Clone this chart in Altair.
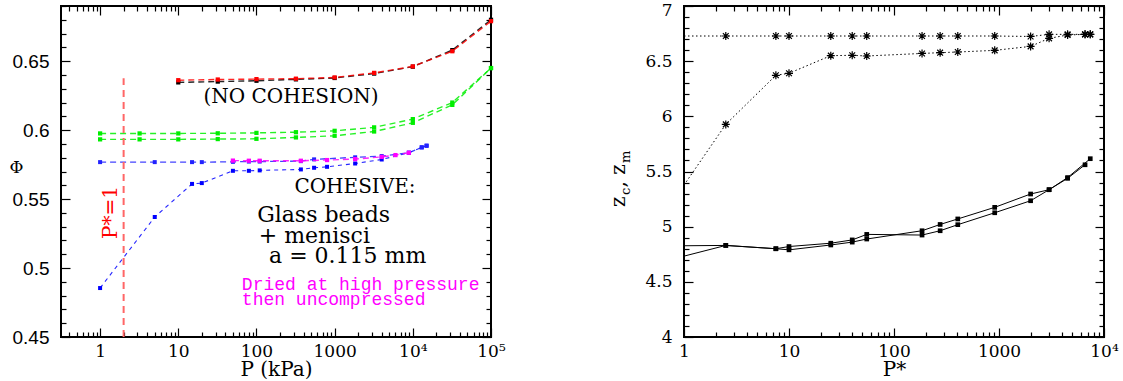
import altair as alt
import pandas as pd

# ---------------- left panel data (packing fraction vs P in kPa) ----------------
P_nc = [10, 32, 100, 320, 1000, 3200, 1e4, 3.2e4, 1e5]
phi_black = [0.6346, 0.6352, 0.6358, 0.6368, 0.6378, 0.6410, 0.6460, 0.6580, 0.6800]
phi_red = [0.6362, 0.6367, 0.6370, 0.6373, 0.6382, 0.6415, 0.6462, 0.6572, 0.6790]

P_green = [1, 3.2, 10, 32, 100, 320, 1000, 3200, 1e4, 3.2e4, 1e5]
phi_green_hi = [0.5976, 0.5976, 0.5976, 0.5977, 0.5980, 0.5985, 0.5995, 0.6020, 0.6080, 0.6200, 0.6450]
phi_green_lo = [0.5933, 0.5933, 0.5933, 0.5935, 0.5937, 0.5947, 0.5959, 0.5990, 0.6053, 0.6183, 0.6450]

P_blue_hi = [1, 5, 15, 20, 50, 80, 110, 370, 546, 1830, 4000, 8900, 13000, 15000]
phi_blue_hi = [0.5768, 0.5768, 0.5768, 0.5768, 0.5770, 0.5772, 0.5772, 0.5775, 0.5788, 0.5803, 0.5812, 0.5836, 0.5875, 0.5887]
P_blue_lo = [1, 5, 15, 20, 50, 80, 110, 370, 546, 800, 1830, 4000, 8900, 13000, 15000]
phi_blue_lo = [0.4855, 0.5370, 0.5610, 0.5616, 0.5705, 0.5705, 0.5708, 0.5715, 0.5727, 0.5734, 0.5758, 0.5787, 0.5836, 0.5875, 0.5887]
P_mag = [50, 80, 110, 370, 800, 1830, 4000, 6000, 8900]
phi_mag = [0.5779, 0.5778, 0.5778, 0.5778, 0.5783, 0.5790, 0.5806, 0.5819, 0.5836]

P_star_line = [2, 2]
phi_star_line = [0.45, 0.6377]

left_texts = ["(NO COHESION)", "COHESIVE:", "Glass beads", "+ menisci", "a = 0.115 mm"]
left_text_P = [277, 1820, 102, 107, 145]
left_text_phi = [0.6196, 0.5543, 0.5333, 0.5181, 0.5036]
left_text_align = ["center", "center", "left", "left", "left"]
left_text_size = [20, 20, 22, 22, 22]
mag_texts = ["Dried at high pressure", "then uncompressed"]
mag_text_P = [65, 65]
mag_text_phi = [0.4840, 0.4732]

# ---------------- right panel data (coordination numbers vs P*) ----------------
P_r = [1, 2.5, 7.5, 10, 25, 40, 55, 185, 275, 405, 910, 2000, 3000, 4500, 6600, 7400]
z_star_hi = [6.728, 6.728, 6.728, 6.728, 6.728, 6.728, 6.728, 6.728, 6.728, 6.728, 6.728, 6.724, 6.743, 6.743, 6.743, 6.743]
z_star_lo = [5.377, 5.927, 6.372, 6.390, 6.550, 6.553, 6.547, 6.570, 6.577, 6.583, 6.598, 6.634, 6.707, 6.737, 6.743, 6.743]
P_sqA = [1, 2.5, 7.5, 10, 25, 40, 55, 185, 275, 405, 910, 2000, 3000, 4500, 6600]
z_sqA = [4.827, 4.830, 4.800, 4.820, 4.850, 4.880, 4.930, 4.924, 4.963, 5.018, 5.126, 5.235, 5.335, 5.438, 5.561]
P_sqB = [1, 2.5, 7.5, 10, 25, 40, 55, 185, 275, 405, 910, 2000, 3000, 4500, 7400]
z_sqB = [4.733, 4.830, 4.800, 4.790, 4.834, 4.860, 4.888, 4.963, 5.020, 5.070, 5.175, 5.296, 5.335, 5.445, 5.616]

SERIF = "DejaVu Serif"
SANS = "Liberation Sans"
ASTERISK = "M-1,0L1,0M0,-1L0,1M-0.72,-0.72L0.72,0.72M-0.72,0.72L0.72,-0.72"
H = 331


def frame(P, v):
    return pd.DataFrame({"P": P, "v": v})


def tick_layers(df, xs, ys, xmaj, xmin, ymaj, ymin, lmaj=9, lmin=5):
    base = alt.Chart(df).mark_point(opacity=0)
    out = []
    for orient in ("bottom", "top"):
        for vals, L in ((xmaj, lmaj), (xmin, lmin)):
            out.append(base.encode(
                x=alt.X("P:Q", scale=xs, axis=alt.Axis(
                    orient=orient, values=vals, tickSize=L, offset=-L, labels=False,
                    domain=False, grid=False, title=None, tickColor="black", tickWidth=1.2)),
                y=alt.Y("v:Q", scale=ys, axis=None)))
    for orient in ("left", "right"):
        for vals, L in ((ymaj, lmaj), (ymin, lmin)):
            out.append(base.encode(
                x=alt.X("P:Q", scale=xs, axis=None),
                y=alt.Y("v:Q", scale=ys, axis=alt.Axis(
                    orient=orient, values=vals, tickSize=L, offset=-L, labels=False,
                    domain=False, grid=False, title=None, tickColor="black", tickWidth=1.2))))
    return out


def log_minor(lo_exp, hi_exp, lo, hi):
    vals = []
    for e in range(lo_exp, hi_exp):
        for m in range(2, 10):
            t = m * 10 ** e
            if lo <= t <= hi:
                vals.append(t)
    return vals


x_label_expr = ("datum.value >= 100000 ? '10\u2075' : datum.value >= 10000 ? '10\u2074' : "
                "format(datum.value, 'd')")

# ---------------- left panel ----------------
xsL = alt.Scale(type="log", domain=[0.3162, 1e5], nice=False)
ysL = alt.Scale(domain=[0.45, 0.69], nice=False, zero=False)
xmajL = [1, 10, 100, 1000, 1e4, 1e5]
xminL = log_minor(-1, 5, 0.3162, 1e5)
ymajL = [0.45, 0.5, 0.55, 0.6, 0.65]
yminL = [round(0.45 + 0.01 * i, 2) for i in range(25) if i % 5 != 0]

dfL = frame(P_green, phi_green_hi)

labelsL = alt.Chart(dfL).mark_point(opacity=0).encode(
    x=alt.X("P:Q", scale=xsL, axis=alt.Axis(
        orient="bottom", values=xmajL, ticks=False, domain=False, grid=False,
        labelExpr=x_label_expr, labelFont=SERIF, labelFontSize=17, labelColor="black",
        labelPadding=6, labelFlush=False, title="P (kPa)", titleFont=SERIF,
        titleFontSize=20, titleFontWeight="normal", titleColor="black", titlePadding=0)),
    y=alt.Y("v:Q", scale=ysL, axis=alt.Axis(
        orient="left", values=ymajL, ticks=False, domain=False, grid=False,
        format=".2~f", labelFont=SANS, labelFontSize=19, labelColor="black",
        labelPadding=12, labelFlush=False, labelBaseline="middle",
        title="\u03a6", titleFont=SERIF, titleFontSize=17, titleFontWeight="normal",
        titleColor="black", titleAngle=0, titleX=-45, titleY=161,
        titleBaseline="middle", titleAlign="center")),
)


def series_layers(P, v, color, dash, width, size):
    d = frame(P, v)
    enc = dict(x=alt.X("P:Q", scale=xsL, axis=None), y=alt.Y("v:Q", scale=ysL, axis=None))
    ln = alt.Chart(d).mark_line(color=color, strokeDash=dash, strokeWidth=width, opacity=0.85).encode(**enc)
    pt = alt.Chart(d).mark_square(color=color, size=size, opacity=1).encode(**enc)
    return [ln, pt]


layersL = [labelsL]
layersL += series_layers(P_green, phi_green_hi, "#00ee00", [6, 4], 1.4, 18)
layersL += series_layers(P_green, phi_green_lo, "#00ee00", [6, 4], 1.4, 18)
layersL += series_layers(P_blue_lo, phi_blue_lo, "#0000ff", [4, 4], 1.1, 16)
layersL += series_layers(P_blue_hi, phi_blue_hi, "#2222ff", [6, 4], 1.3, 16)
layersL += series_layers(P_mag, phi_mag, "#ff00ff", [6, 4], 1.4, 18)
layersL += series_layers(P_nc, phi_black, "#000000", [6, 4], 1.4, 18)
layersL += series_layers(P_nc, phi_red, "#ff0000", [6, 4], 1.4, 18)

vline = alt.Chart(pd.DataFrame({"P": [P_star_line[0]], "v": [phi_star_line[0]], "v2": [phi_star_line[1]]})).mark_rule(
    color="#ff6666", strokeDash=[7, 5], strokeWidth=2).encode(
    x=alt.X("P:Q", scale=xsL, axis=None), y=alt.Y("v:Q", scale=ysL, axis=None), y2="v2:Q")
layersL.append(vline)

ptext = alt.Chart(pd.DataFrame({"P": [1.65], "v": [0.521], "t": ["P*=1"]})).mark_text(
    angle=270, align="left", baseline="alphabetic", font=SERIF, fontSize=20, color="#ff0000").encode(
    x=alt.X("P:Q", scale=xsL, axis=None), y=alt.Y("v:Q", scale=ysL, axis=None), text="t:N")
layersL.append(ptext)

for t, p, v, a, fs in zip(left_texts, left_text_P, left_text_phi, left_text_align, left_text_size):
    layersL.append(alt.Chart(pd.DataFrame({"P": [p], "v": [v], "t": [t]})).mark_text(
        align=a, baseline="alphabetic", font=SERIF, fontSize=fs, color="black").encode(
        x=alt.X("P:Q", scale=xsL, axis=None), y=alt.Y("v:Q", scale=ysL, axis=None), text="t:N"))
for t, p, v in zip(mag_texts, mag_text_P, mag_text_phi):
    layersL.append(alt.Chart(pd.DataFrame({"P": [p], "v": [v], "t": [t]})).mark_text(
        align="left", baseline="alphabetic", font="Liberation Mono", fontSize=18, color="#ff00ff").encode(
        x=alt.X("P:Q", scale=xsL, axis=None), y=alt.Y("v:Q", scale=ysL, axis=None), text="t:N"))

layersL += tick_layers(dfL, xsL, ysL, xmajL, xminL, ymajL, yminL)

left = alt.layer(*layersL).properties(width=430, height=H).resolve_axis(x="independent", y="independent")

# ---------------- right panel ----------------
xsR = alt.Scale(type="log", domain=[1, 1e4], nice=False)
ysR = alt.Scale(domain=[4, 7], nice=False, zero=False)
xmajR = [1, 10, 100, 1000, 1e4]
xminR = log_minor(0, 4, 1, 1e4)
ymajR = [4, 4.5, 5, 5.5, 6, 6.5, 7]
yminR = [round(4 + 0.1 * i, 1) for i in range(31) if i % 5 != 0]

dfR = frame(P_r, z_star_hi)
labelsR = alt.Chart(dfR).mark_point(opacity=0).encode(
    x=alt.X("P:Q", scale=xsR, axis=alt.Axis(
        orient="bottom", values=xmajR, ticks=False, domain=False, grid=False,
        labelExpr=x_label_expr, labelFont=SERIF, labelFontSize=17, labelColor="black",
        labelPadding=6, labelFlush=False, title="P*", titleFont=SERIF,
        titleFontSize=20, titleFontWeight="normal", titleColor="black", titlePadding=0)),
    y=alt.Y("v:Q", scale=ysR, axis=alt.Axis(
        orient="left", values=ymajR, ticks=False, domain=False, grid=False,
        format=".1~f", labelFont=SERIF, labelFontSize=17, labelColor="black",
        labelPadding=12, labelFlush=False, labelBaseline="middle", title=None,
        labelOffset={"condition": {"test": "datum.value == 7", "value": 4}, "value": 0})),
)

encR = dict(x=alt.X("P:Q", scale=xsR, axis=None), y=alt.Y("v:Q", scale=ysR, axis=None))
layersR = [labelsR]
for P, z in ((P_r, z_star_hi), (P_r, z_star_lo)):
    d = frame(P, z)
    layersR.append(alt.Chart(d).mark_line(color="black", strokeDash=[1.5, 2.5], strokeWidth=1).encode(**encR))
    layersR.append(alt.Chart(d).transform_filter("datum.P > 1").mark_point(
        shape=ASTERISK, size=64, filled=False, color="black", strokeWidth=1.2, opacity=1).encode(**encR))
for P, z in ((P_sqA, z_sqA), (P_sqB, z_sqB)):
    d = frame(P, z)
    layersR.append(alt.Chart(d).mark_line(color="black", strokeWidth=1).encode(**encR))
    layersR.append(alt.Chart(d).transform_filter("datum.P > 1").mark_square(
        color="black", size=22, opacity=1).encode(**encR))

# y title z_c, z_m built from pieces (rotated)
pieces = [("z", 20, -59, 201), ("c", 13, -54, 189), (", z", 20, -59, 181.5), ("m", 13, -54, 157)]
for txt, fs, px, py in pieces:
    layersR.append(alt.Chart(pd.DataFrame({"t": [txt]})).mark_text(
        angle=270, align="left", baseline="alphabetic", font=SERIF, fontSize=fs, color="black").encode(
        x=alt.value(px), y=alt.value(py), text="t:N"))

layersR += tick_layers(dfR, xsR, ysR, xmajR, xminR, ymajR, yminR)

right = alt.layer(*layersR).properties(width=420, height=H).resolve_axis(x="independent", y="independent")

chart = alt.hconcat(left, right, spacing=101).configure_view(
    stroke="black", strokeWidth=2).properties(
    padding={"left": 8, "top": 0, "right": 0, "bottom": 0}, background="white")

chart.save("out.html", embed_options={"renderer": "svg", "actions": False})
